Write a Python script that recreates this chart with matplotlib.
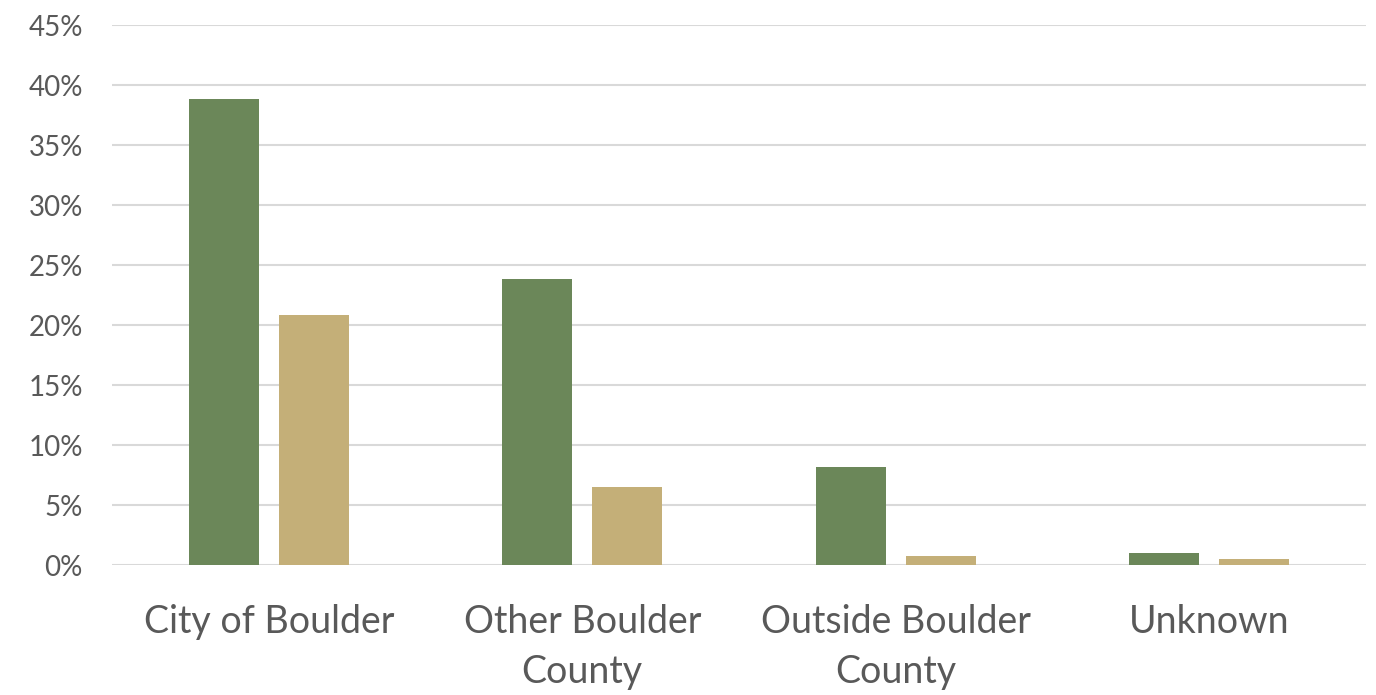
import numpy as np
import matplotlib.pyplot as plt

categories = ['City of Boulder', 'Other Boulder\nCounty', 'Outside Boulder\nCounty', 'Unknown']
series_a = [38.8, 23.8, 8.2, 1.0]
series_b = [20.8, 6.5, 0.75, 0.5]
yticks = [0, 5, 10, 15, 20, 25, 30, 35, 40, 45]

green = '#6B8759'
tan = '#C4AF78'
grid_c = '#D9D9D9'
text_c = '#595959'

plt.rcParams['font.family'] = ['Lato', 'DejaVu Sans']

fig = plt.figure(figsize=(13.76, 6.95), dpi=100)
ax = fig.add_axes([112 / 1376, 130 / 695, 1254 / 1376, 540 / 695])

x = np.arange(len(categories))
w = 0.223
ax.bar(x - 0.143, series_a, w, color=green, zorder=3)
ax.bar(x + 0.143, series_b, w, color=tan, zorder=3)

ax.set_xlim(-0.5, len(categories) - 0.5)
ax.set_ylim(0, 45)
ax.set_yticks(yticks)
ax.set_yticklabels([f'{v}%' for v in yticks], fontsize=20, color=text_c)
ax.set_xticks(x)
ax.set_xticklabels(categories, fontsize=27, color=text_c, linespacing=1.5)
ax.tick_params(axis='both', length=0)
ax.tick_params(axis='y', pad=21)
ax.tick_params(axis='x', pad=28)

ax.yaxis.grid(True, color=grid_c, linewidth=1.5, zorder=0)
for s in ax.spines.values():
    s.set_visible(False)

fig.savefig('out.png', dpi=100)
